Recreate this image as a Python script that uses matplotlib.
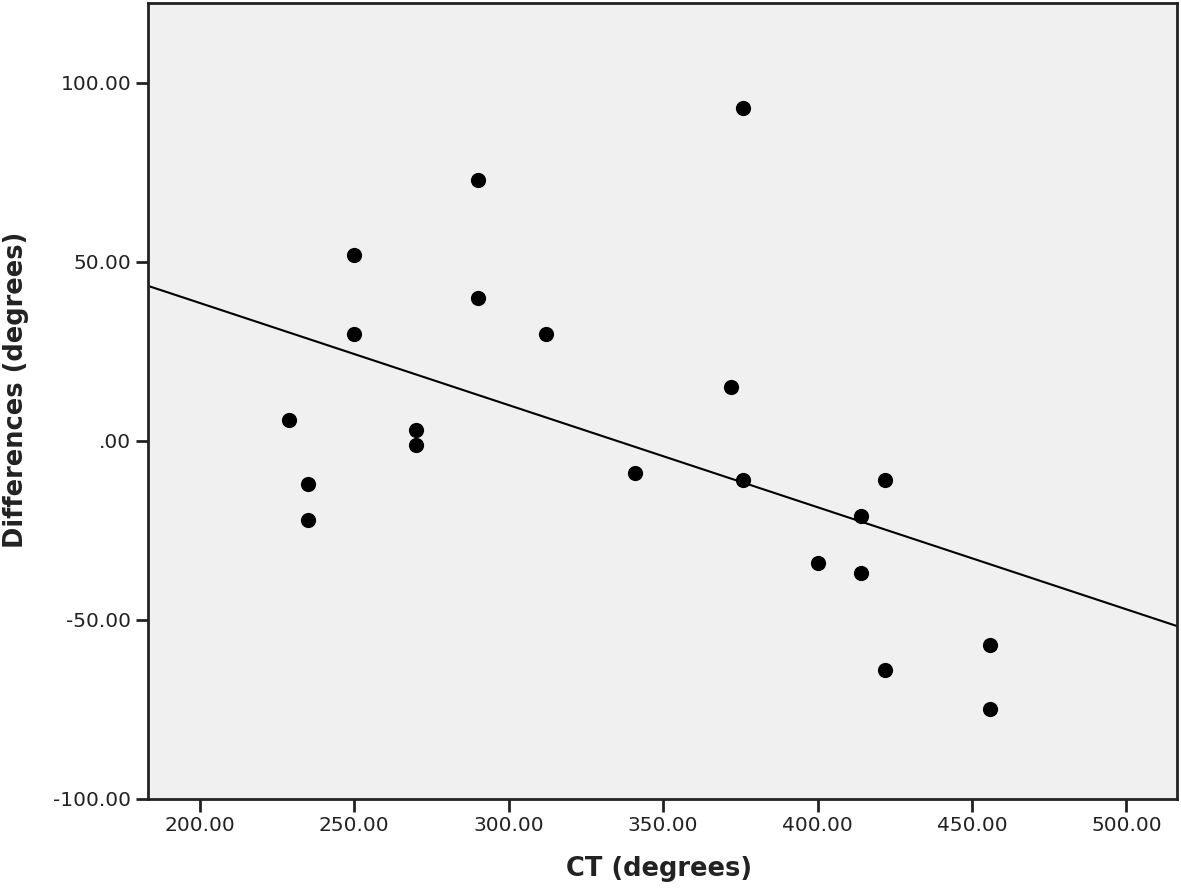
import numpy as np
import matplotlib
matplotlib.use("Agg")
import matplotlib.pyplot as plt

ct = [229, 235, 235, 250, 250, 270, 270, 290, 290, 312, 341, 372, 376, 376,
      400, 414, 414, 422, 422, 456, 456]
diff = [6, -12, -22, 52, 30, 3, -1, 73, 40, 30, -9, 15, 93, -11,
        -34, -21, -37, -11, -64, -57, -75]

x_ticks = [200, 250, 300, 350, 400, 450, 500]
x_labels = ["200.00", "250.00", "300.00", "350.00", "400.00", "450.00", "500.00"]
y_ticks = [-100, -50, 0, 50, 100]
y_labels = ["-100.00", "-50.00", ".00", "50.00", "100.00"]

plt.rcParams['font.family'] = ['DejaVu Sans']

fig = plt.figure(figsize=(11.81, 8.88), dpi=100)
ax = fig.add_axes([148/1181, 1 - 799/888, (1177-148)/1181, (799-3.5)/888])
ax.set_facecolor('#f0f0f0')

ax.scatter(ct, diff, s=120, color='black', zorder=3, linewidths=0)

xlim = (183.2, 516.4)
slope, intercept = np.polyfit(ct, diff, 1)
xs = np.array(xlim)
ax.plot(xs, slope * xs + intercept, color='black', lw=1.5, zorder=2)

ax.set_xlim(*xlim)
ax.set_ylim(-100, 122.2)
ax.set_xticks(x_ticks)
ax.set_xticklabels(x_labels)
ax.set_yticks(y_ticks)
ax.set_yticklabels(y_labels)
ax.tick_params(direction='out', length=9, width=2, labelsize=14.5, colors='#222222',
               pad=3)
for sp in ax.spines.values():
    sp.set_linewidth(2)
    sp.set_color('#222222')

fig.text(659/1181, 1 - 869/888, 'CT (degrees)', fontsize=18.5, fontweight='bold',
         color='#222222', ha='center', va='center')
fig.text(16/1181, 1 - 390/888, 'Differences (degrees)', fontsize=18.5, fontweight='bold',
         color='#222222', ha='center', va='center', rotation=90)

fig.savefig('out.png', dpi=100, facecolor='white')
